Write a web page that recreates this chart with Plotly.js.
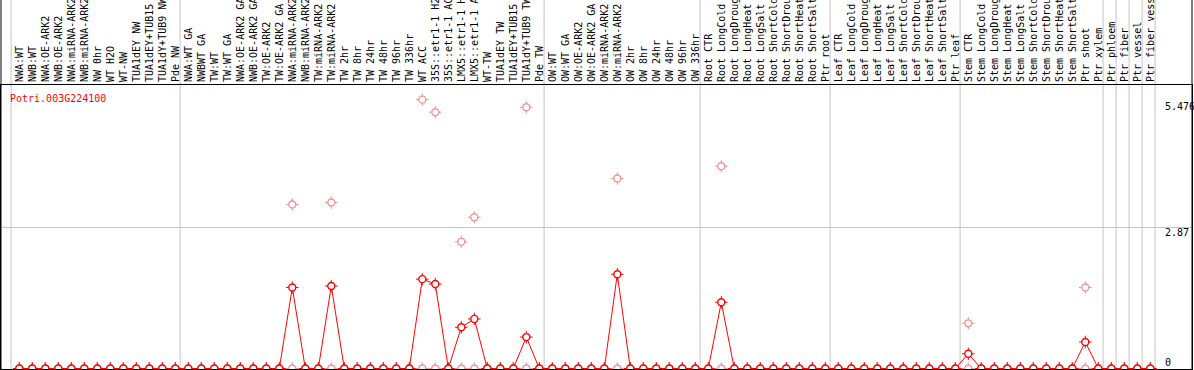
<!DOCTYPE html>
<html><head><meta charset="utf-8">
<script src="https://cdn.plot.ly/plotly-3.0.1.min.js"></script>
<style>html,body{margin:0;padding:0;background:#fff;overflow:hidden}</style>
</head><body><div id="chart" style="width:1194px;height:370px"></div>
<script>
const sampleLabels = [
  "NWA:WT","NWB:WT","NWA:OE-ARK2","NWB:OE-ARK2","NWA:miRNA-ARK2","NWB:miRNA-ARK2","NW 0hr","WT H2O","WT-NW","TUA1dEY NW","TUA1dEY+TUB15 NW","TUA1dY+TUB9 NW","Pde NW",
  "NWA:WT GA","NWBWT GA","TW:WT","TW:WT GA","NWA:OE-ARK2 GA","NWB:OE-ARK2 GA","TW:OE-ARK2","TW:OE-ARK2 GA","NWA:miRNA-ARK2","NWB:miRNA-ARK2","TW:miRNA-ARK2","TW:miRNA-ARK2","TW 2hr",
  "TW 8hr","TW 24hr","TW 48hr","TW 96hr","TW 336hr","WT ACC","35S::etr1-1 H2O","35S::etr1-1 ACC","LMX5::etr1-1 H2O","LMX5::etr1-1 ACC","WT-TW","TUA1dEY TW","TUA1dEY+TUB15 TW",
  "TUA1dY+TUB9 TW","Pde TW","OW:WT","OW:WT GA","OW:OE-ARK2","OW:OE-ARK2 GA","OW:miRNA-ARK2","OW:miRNA-ARK2","OW 2hr","OW 8hr","OW 24hr","OW 48hr","OW 96hr",
  "OW 336hr","Root CTR","Root LongCold","Root LongDrought","Root LongHeat","Root LongSalt","Root ShortCold","Root ShortDrought","Root ShortHeat","Root ShortSalt","Ptr root","Leaf CTR","Leaf LongCold",
  "Leaf LongDrought","Leaf LongHeat","Leaf LongSalt","Leaf ShortCold","Leaf ShortDrought","Leaf ShortHeat","Leaf ShortSalt","Ptr leaf","Stem CTR","Stem LongCold","Stem LongDrought","Stem LongHeat","Stem LongSalt",
  "Stem ShortCold","Stem ShortDrought","Stem ShortHeat","Stem ShortSalt","Ptr shoot","Ptr xylem","Ptr phloem","Ptr fiber","Ptr vessel","Ptr fiber vessel"
];
const meanValues = [
  0,0,0,0,0,0,0,0,0,0,0,0,0,
  0,0,0,0,0,0,0,0,1.65,0,0,1.68,0,
  0,0,0,0,0,1.82,1.72,0,0.84,1.01,0,0,0,
  0.64,0,0,0,0,0,0,1.92,0,0,0,0,0,
  0,0,1.35,0,0,0,0,0,0,0,0,0,0,
  0,0,0,0,0,0,0,0,0.30,0,0,0,0,
  0,0,0,0,0.54,0,0,0,0,0
];
const rep1Values = [
  0,0,0,0,0,0,0,0,0,0,0,0,0,
  0,0,0,0,0,0,0,0,3.34,0,0,3.38,0,
  0,0,0,0,0,5.476,5.22,0,2.58,3.08,0,0,0,
  5.32,0,0,0,0,0,0,3.87,0,0,0,0,0,
  0,0,4.12,0,0,0,0,0,0,0,0,0,0,
  0,0,0,0,0,0,0,0,0.92,0,0,0,0,
  0,0,0,0,1.65,0,0,0,0,0
];
const rep2Values = [
  0,0,0,0,0,0,0,0,0,0,0,0,0,
  0,0,0,0,0,0,0,0,0,0,0,0,0,
  0,0,0,0,0,0,0,0,0,0,0,0,0,
  0,0,0,0,0,0,0,0,0,0,0,0,0,
  0,0,0,0,0,0,0,0,0,0,0,0,0,
  0,0,0,0,0,0,0,0,0,0,0,0,0,
  0,0,0,0,0,0,0,0,0,0
];
const groupStarts = [0,13,41,53,63,73,84,85,86,87,88];
const yTickVals = [0, 2.87, 5.476];
const yTickText = ["0", "2.87", "5.476"];
const geneName = "Potri.003G224100";

const RED = "#ff0000", PINK = "#ee9494";
const FONT = "DejaVu Sans Mono";
const idx = sampleLabels.map((_, i) => i);
const repX = idx.concat(idx);
const repY = rep1Values.concat(rep2Values);

const traces = [
  {x: repX, y: repY, type: "scatter", mode: "markers", hoverinfo: "skip",
   marker: {symbol: "cross-thin-open", size: 9, color: PINK, line: {color: PINK, width: 1}}},
  {x: repX, y: repY, type: "scatter", mode: "markers", hoverinfo: "skip",
   marker: {symbol: "circle", size: 7, color: "#ffffff", line: {color: PINK, width: 1.4}}},
  {x: idx, y: meanValues, type: "scatter", mode: "lines+markers",
   line: {color: RED, width: 1},
   marker: {symbol: "cross-thin-open", size: 9, color: RED, line: {color: RED, width: 1}}},
  {x: idx, y: meanValues, type: "scatter", mode: "markers",
   marker: {symbol: "circle", size: 7, color: "#ffffff", line: {color: RED, width: 1.4}}}
];

const shapes = groupStarts.map(s => ({
  type: "line", xref: "x", yref: "paper", x0: s - 0.63, x1: s - 0.63, y0: 0, y1: 1.31,
  line: {color: "#c4c4c4", width: 1}, layer: "below"
}));
shapes.push({type: "line", xref: "paper", yref: "paper", x0: 0, x1: 0, y0: 0, y1: 1.31, line: {color: "#000", width: 1}});
shapes.push({type: "line", xref: "paper", yref: "paper", x0: 1, x1: 1, y0: 0, y1: 1.31, line: {color: "#000", width: 1}});

const shifts = [6.5, -4.5, -7];
const annotations = yTickVals.map((v, i) => ({
  xref: "paper", yref: "y", x: 0.9757, y: v, xanchor: "left", yanchor: "middle",
  yshift: shifts[i], text: yTickText[i], showarrow: false,
  font: {family: FONT, size: 10, color: "#000"}
}));
annotations.push({
  xref: "paper", yref: "paper", x: 0.0055, y: 0.954, xanchor: "left", yanchor: "middle",
  text: geneName, showarrow: false, font: {family: FONT, size: 10, color: RED}
});

const layout = {
  width: 1194, height: 370,
  margin: {l: 1, r: 2, t: 85, b: 1, pad: 0},
  paper_bgcolor: "#fff", plot_bgcolor: "#fff",
  showlegend: false, hovermode: false,
  xaxis: {
    range: [-1.408, 90.208], side: "top", tickmode: "array", tickvals: idx, ticktext: sampleLabels,
    tickangle: -90, ticks: "", showgrid: false, zeroline: false, automargin: false,
    showline: true, mirror: true, linecolor: "#000", linewidth: 1, fixedrange: true,
    tickfont: {family: FONT, size: 10, color: "#000"}
  },
  yaxis: {
    range: [-0.01, 5.774], tickmode: "array", tickvals: [2.87], showticklabels: false, ticks: "",
    showgrid: true, gridcolor: "#c4c4c4", gridwidth: 1, zeroline: false, automargin: false,
    showline: true, mirror: true, linecolor: "#000", linewidth: 1, fixedrange: true
  },
  shapes: shapes,
  annotations: annotations
};

Plotly.newPlot("chart", traces, layout, {displayModeBar: false, staticPlot: true});
</script>
</body></html>
